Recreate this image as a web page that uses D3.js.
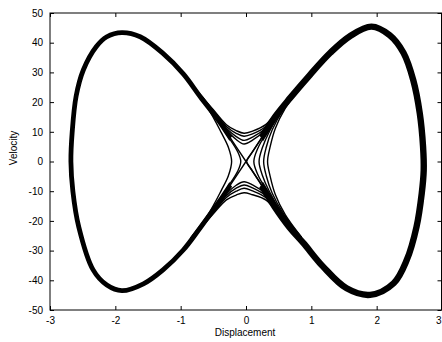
<!DOCTYPE html>
<html>
<head>
<meta charset="utf-8">
<script src="https://cdn.jsdelivr.net/npm/d3@7"></script>
<style>
  html, body { margin: 0; padding: 0; background: #fff; }
  svg { display: block; }
  text { font-family: "Liberation Sans", Arial, sans-serif; fill: #000; }
</style>
</head>
<body>
<svg id="chart" width="442" height="342"></svg>
<script>
// Tick values
const xTicks = [-3, -2, -1, 0, 1, 2, 3];
const yTicks = [-50, -40, -30, -20, -10, 0, 10, 20, 30, 40, 50];

// Left-well orbit (band centreline), clockwise from the saddle at the origin
const leftLobeX = [0, -0.2, -0.4, -0.7, -0.96, -1.27, -1.62, -1.9, -2.13, -2.29, -2.49, -2.6, -2.66, -2.68,
                   -2.65, -2.56, -2.34, -2.13, -1.9, -1.57, -1.27, -0.96, -0.7, -0.4, -0.2, 0];
const leftLobeY = [0, 6.6, 13.2, 21.8, 29.5, 36.4, 42.0, 43.4, 42.0, 38.7, 30.8, 22, 10, 0,
                   -10, -22, -36.5, -41.6, -43.5, -41.2, -36.5, -29.8, -22.3, -13.2, -6.6, 0];

// Right-well orbit (band centreline), clockwise from the saddle
const rightLobeX = [0, 0.2, 0.45, 0.68, 0.98, 1.29, 1.59, 1.92, 2.2, 2.41, 2.56, 2.66, 2.71, 2.72,
                    2.69, 2.61, 2.46, 2.26, 1.9, 1.54, 1.18, 0.88, 0.67, 0.44, 0.2, 0];
const rightLobeY = [0, 6.7, 15.2, 21.5, 29.2, 36.6, 42.2, 45.4, 42.5, 36.6, 27.4, 16.2, 5, -3,
                    -10.7, -22, -33.2, -41, -44.9, -42.7, -35.4, -27.5, -22.3, -15.3, -6.7, 0];

// Passes over the saddle: shared displacement samples
const crossX = [-0.8, -0.5, -0.3, -0.15, -0.03, 0.1, 0.3, 0.5, 0.8];
// moving right above the saddle (v > 0)
const overY1 = [25.2, 17.4, 12.4, 10.4, 9.5, 10.2, 12.4, 17.4, 25.1];
const overY2 = [25.0, 17.1, 11.8, 9.5, 8.5, 9.3, 11.8, 17.1, 25.0];
const overY3 = [24.9, 16.8, 11.2, 8.4, 7.1, 8.2, 11.2, 16.8, 24.9];
const overY4 = [24.8, 16.5, 10.7, 7.4, 5.9, 7.2, 10.7, 16.5, 24.8];
// moving left below the saddle (v < 0)
const underY1 = [-24.9, -16.6, -10.9, -8.0, -6.8, -7.9, -10.9, -16.7, -24.8];
const underY2 = [-25.0, -16.9, -11.5, -9.0, -7.9, -8.9, -11.5, -17.0, -24.9];
const underY3 = [-25.1, -17.2, -12.1, -10.0, -9.0, -9.9, -12.1, -17.3, -25.0];
const underY4 = [-25.3, -17.6, -12.9, -11.3, -10.5, -11.2, -12.9, -17.6, -25.2];

// Orbits that turn back just short of the saddle (upper half; mirrored in v below)
const turnX1 = [-0.85, -0.55, -0.3, -0.13, -0.08];
const turnV1 = [26.0, 17.6, 9.3, 3.4, 0];
const turnX2 = [-0.85, -0.58, -0.38, -0.27, -0.22];
const turnV2 = [25.8, 17.8, 9.8, 4.8, 0];
const turnX3 = [0.85, 0.55, 0.3, 0.1, 0.01];
const turnV3 = [25.9, 17.9, 9.8, 3.2, 0];
const turnX4 = [0.85, 0.55, 0.32, 0.18, 0.12];
const turnV4 = [25.8, 17.7, 9.9, 4.4, 0];
const turnX5 = [0.85, 0.56, 0.36, 0.25, 0.2];
const turnV5 = [25.7, 17.7, 10.2, 4.6, 0];
const turnX6 = [0.85, 0.58, 0.4, 0.31, 0.27];
const turnV6 = [25.6, 17.8, 10.6, 4.8, 0];
const turnX7 = [0.85, 0.6, 0.45, 0.37, 0.33];
const turnV7 = [25.5, 17.9, 11.2, 5.0, 0];

const svg = d3.select("#chart");
const x = d3.scaleLinear().domain([-3, 3]).range([50, 442]);
const y = d3.scaleLinear().domain([-50, 50]).range([310, 13]);

const line = d3.line()
  .x(d => x(d[0]))
  .y(d => y(d[1]))
  .curve(d3.curveCatmullRom.alpha(0.5));

const zipXY = (xs, ys) => xs.map((v, i) => [v, ys[i]]);
// full turning orbit: upper half then its mirror below
const turnPath = (xs, vs) => zipXY(xs, vs).concat(zipXY(xs, vs.map(v => -v)).reverse().slice(1));

// Clip that opens the dense bands into separate strands around the saddle
const cx0 = x(0), cy0 = y(0), rx = 21, ry = 34;
const defs = svg.append("defs");
defs.append("clipPath").attr("id", "saddle-gap")
  .append("path")
  .attr("clip-rule", "evenodd")
  .attr("d", `M0,0H442V342H0Z M${cx0 - rx},${cy0} a${rx},${ry} 0 1,0 ${2 * rx},0 a${rx},${ry} 0 1,0 ${-2 * rx},0Z`);

const plot = svg.append("g");
const leftPts = zipXY(leftLobeX, leftLobeY);
const rightPts = zipXY(rightLobeX, rightLobeY);

// Trajectory bands around each well
const bands = plot.append("g").attr("clip-path", "url(#saddle-gap)");
bands.append("path")
  .attr("d", line(leftPts))
  .attr("fill", "none").attr("stroke", "#000")
  .attr("stroke-width", 4.8).attr("stroke-linejoin", "round");
bands.append("path")
  .attr("d", line(rightPts))
  .attr("fill", "none").attr("stroke", "#000")
  .attr("stroke-width", 6.4).attr("stroke-linejoin", "round");

// Thin strands through the saddle region
const strands = [leftPts, rightPts];
[overY1, overY2, overY3, overY4, underY1, underY2, underY3, underY4]
  .forEach(ys => strands.push(zipXY(crossX, ys)));
[[turnX1, turnV1], [turnX2, turnV2], [turnX3, turnV3], [turnX4, turnV4],
 [turnX5, turnV5], [turnX6, turnV6], [turnX7, turnV7]]
  .forEach(([xs, vs]) => strands.push(turnPath(xs, vs)));

plot.selectAll("path.strand").data(strands).enter().append("path")
  .attr("class", "strand")
  .attr("d", line)
  .attr("fill", "none").attr("stroke", "#000")
  .attr("stroke-width", 1.4);

// Axes box with inward ticks on all sides
const fmt = d => String(d);
const tickLen = 4;
const font = "Liberation Sans, Arial, sans-serif";

svg.append("g").attr("transform", "translate(0,310)")
  .call(d3.axisBottom(x).tickValues(xTicks).tickFormat(fmt).tickSizeInner(-tickLen).tickSizeOuter(0).tickPadding(7))
  .call(g => g.select(".domain").remove())
  .call(g => g.selectAll("text").attr("font-size", 10).attr("font-family", font)
    .filter(d => d === 3).attr("text-anchor", "end").attr("dx", -1));
svg.append("g").attr("transform", "translate(0,13)")
  .call(d3.axisTop(x).tickValues(xTicks).tickFormat("").tickSizeInner(-tickLen).tickSizeOuter(0))
  .call(g => g.select(".domain").remove());
svg.append("g").attr("transform", "translate(50,0)")
  .call(d3.axisLeft(y).tickValues(yTicks).tickFormat(fmt).tickSizeInner(-tickLen).tickSizeOuter(0).tickPadding(7))
  .call(g => g.select(".domain").remove())
  .call(g => g.selectAll("text").attr("font-size", 10).attr("font-family", font));
svg.append("g").attr("transform", "translate(441.5,0)")
  .call(d3.axisRight(y).tickValues(yTicks).tickFormat("").tickSizeInner(-tickLen).tickSizeOuter(0))
  .call(g => g.select(".domain").remove());

svg.append("rect")
  .attr("x", x(-3)).attr("y", y(50))
  .attr("width", x(3) - x(-3) - 0.5).attr("height", y(-50) - y(50))
  .attr("fill", "none").attr("stroke", "#000").attr("stroke-width", 1);

// Axis titles
svg.append("text")
  .attr("x", 245).attr("y", 336)
  .attr("text-anchor", "middle").attr("font-size", 10)
  .text("Displacement");
svg.append("text")
  .attr("transform", "translate(17,148) rotate(-90)")
  .attr("text-anchor", "middle").attr("font-size", 10)
  .text("Velocity");
</script>
</body>
</html>
